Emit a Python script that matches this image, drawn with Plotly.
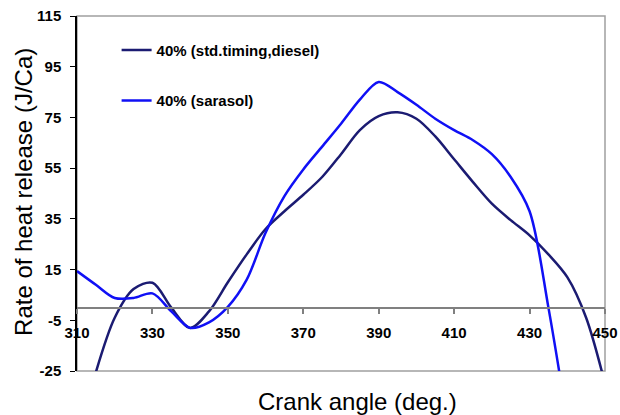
import plotly.graph_objects as go

crank_angle = [310, 315, 320, 325, 330, 335, 340, 345, 350, 355, 360, 365, 370,
               375, 380, 385, 390, 395, 400, 405, 410, 415, 420, 425, 430, 435,
               440, 445, 450]
diesel = [None, -25.5, -4, 7.3, 9.8, 0, -8, -1.5, 10, 21, 31, 38, 44.5,
          51.5, 60.5, 70, 75.5, 77, 74.5, 67.5, 58.5, 49.5, 41, 34.5, 28.5, 21,
          12, -4, -30]
sarasol = [14.4, 9, 3.8, 3.8, 5.6, -1.5, -8, -5.8, 0.3, 11, 29.5, 44, 54.5,
           63.5, 72.5, 82, 89, 85, 80, 74.5, 70, 66, 60.5, 51.5, 38, 0,
           -45, None, None]

series_names = ["<b>40% (std.timing,diesel)</b>", "<b>40% (sarasol)</b>"]
series_colors = ["#1b1b72", "#1010f5"]
y_ticks = [-25, -5, 15, 35, 55, 75, 95, 115]
x_ticks = [310, 330, 350, 370, 390, 410, 430, 450]

narrow = "Liberation Sans Narrow, Arial Narrow, Liberation Sans"
tick_font = dict(family=narrow, size=15, color="black")
legend_font = dict(family=narrow, size=15, color="black")

fig = go.Figure()
for name, vals, col, grp in zip(series_names, [diesel, sarasol], series_colors, ["a", "b"]):
    fig.add_trace(go.Scatter(
        x=crank_angle, y=vals, mode="lines", name=name, legendgroup=grp,
        line=dict(color=col, width=2.5, shape="spline", smoothing=0.9),
        connectgaps=False,
    ))

zero_pos = (0 - y_ticks[0]) / (y_ticks[-1] - y_ticks[0])

fig.update_layout(
    template="none",
    width=620, height=415,
    margin=dict(l=77, r=15, t=16, b=44, pad=0),
    paper_bgcolor="white", plot_bgcolor="white",
    showlegend=True,
    legend=dict(x=0.075, y=0.95, xanchor="left", yanchor="top",
                bgcolor="rgba(0,0,0,0)", font=legend_font,
                tracegroupgap=28),
    xaxis=dict(range=[310, 450], tickvals=x_ticks,
               ticktext=[f"<b>{v}</b>" for v in x_ticks],
               tickfont=tick_font, showgrid=False, zeroline=False,
               showline=True, linecolor="#808080", linewidth=2,
               ticks="outside", ticklen=5, tickcolor="#808080", tickwidth=1.5,
               anchor="free", position=zero_pos, ticklabelstandoff=6,
               automargin=False),
    yaxis=dict(range=[-25, 115], tickvals=y_ticks,
               ticktext=[f"<b>{v}</b>" for v in y_ticks],
               tickfont=tick_font, showgrid=False, zeroline=False,
               showline=True, linecolor="black", linewidth=1.5,
               ticks="outside", ticklen=5, tickcolor="black",
               ticklabelstandoff=6, automargin=False),
    shapes=[dict(type="rect", xref="paper", yref="paper", x0=0, y0=0, x1=1, y1=1,
                 line=dict(color="#a0a0a0", width=1.5), layer="below")],
    annotations=[
        dict(text="Rate of heat release (J/Ca)", xref="paper", yref="paper",
             x=-0.1000, y=0.505, xanchor="center", yanchor="middle", textangle=-90,
             showarrow=False, font=dict(family="Liberation Sans, Arial", size=24, color="black")),
        dict(text="Crank angle (deg.)", xref="paper", yref="paper",
             x=0.532, y=-0.087, xanchor="center", yanchor="middle",
             showarrow=False, font=dict(family="Liberation Sans, Arial", size=24, color="black")),
    ],
)

fig.write_html("out.html", config={"displayModeBar": False},
               post_script="document.body.style.margin='0px';")
